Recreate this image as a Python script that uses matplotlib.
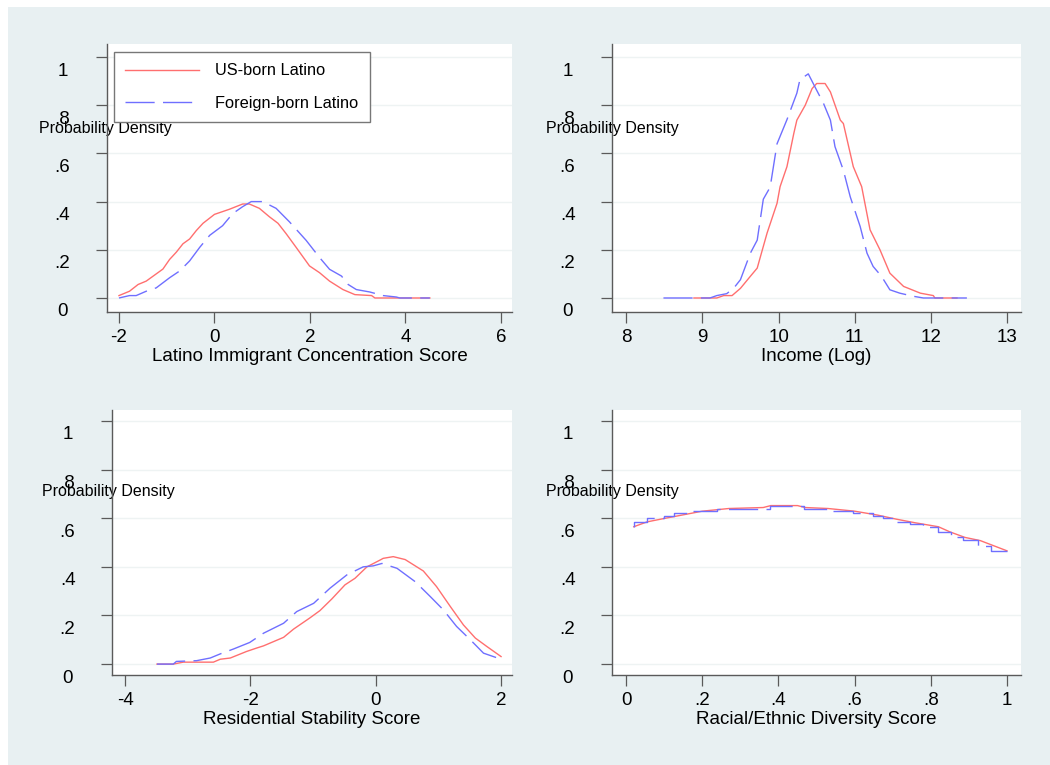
import matplotlib
matplotlib.use("Agg")
import matplotlib.pyplot as plt
from matplotlib.patches import Rectangle
from matplotlib.transforms import ScaledTranslation

plt.rcParams['font.family'] = ['Liberation Sans', 'DejaVu Sans']

# --- data (kernel density curves) ---
# panel 1: Latino immigrant concentration score
conc_us_x = [-2.0, -1.78, -1.6, -1.43, -1.29, -1.08, -0.94, -0.8, -0.66, -0.52, -0.38, -0.24,
             0.0, 0.31, 0.59, 0.73, 0.94, 1.15, 1.33, 1.5, 1.71, 1.99, 2.2, 2.41, 2.69, 2.94,
             3.29, 3.36, 4.51]
conc_us_y = [0.01, 0.028, 0.056, 0.07, 0.09, 0.12, 0.16, 0.19, 0.225, 0.245, 0.28, 0.31,
             0.347, 0.368, 0.39, 0.39, 0.372, 0.337, 0.31, 0.267, 0.21, 0.133, 0.105, 0.07,
             0.035, 0.014, 0.01, 0.0, 0.0]
conc_fb_x = [-2.0, -1.78, -1.64, -1.43, -1.22, -0.94, -0.73, -0.52, -0.31, -0.1, 0.17, 0.38,
             0.59, 0.77, 1.01, 1.29, 1.57, 1.92, 2.2, 2.41, 2.66, 2.8, 2.97, 3.25, 3.53, 3.81,
             3.88, 4.51]
conc_fb_y = [0.0, 0.01, 0.01, 0.028, 0.042, 0.084, 0.112, 0.154, 0.21, 0.26, 0.30, 0.35,
             0.379, 0.40, 0.40, 0.372, 0.316, 0.239, 0.168, 0.119, 0.091, 0.056, 0.035, 0.025,
             0.01, 0.004, 0.0, 0.0]

# panel 2: income (log)
inc_us_x = [8.89, 9.19, 9.28, 9.39, 9.50, 9.63, 9.72, 9.80, 9.85, 9.98, 10.02, 10.11, 10.20,
            10.24, 10.35, 10.44, 10.50, 10.61, 10.68, 10.81, 10.85, 10.98, 11.09, 11.20, 11.33,
            11.46, 11.64, 11.86, 12.03, 12.05, 12.34]
inc_us_y = [0.0, 0.0, 0.01, 0.01, 0.04, 0.09, 0.124, 0.214, 0.27, 0.393, 0.462, 0.545, 0.683,
            0.738, 0.80, 0.869, 0.89, 0.89, 0.855, 0.738, 0.724, 0.545, 0.462, 0.283, 0.20,
            0.103, 0.048, 0.02, 0.01, 0.0, 0.0]
inc_fb_x = [8.49, 9.10, 9.19, 9.32, 9.41, 9.50, 9.63, 9.72, 9.80, 9.89, 9.98, 10.11, 10.24,
            10.28, 10.39, 10.50, 10.59, 10.68, 10.74, 10.85, 10.94, 11.07, 11.16, 11.24, 11.35,
            11.46, 11.59, 11.77, 11.90, 12.47]
inc_fb_y = [0.0, 0.0, 0.01, 0.018, 0.04, 0.076, 0.186, 0.24, 0.41, 0.46, 0.64, 0.74, 0.85,
            0.906, 0.93, 0.862, 0.807, 0.738, 0.628, 0.53, 0.42, 0.297, 0.186, 0.131, 0.09,
            0.034, 0.02, 0.007, 0.0, 0.0]

# panel 3: residential stability score
stab_us_x = [-3.49, -3.23, -3.07, -2.59, -2.48, -2.32, -2.06, -1.90, -1.79, -1.47, -1.31,
             -1.05, -0.89, -0.70, -0.49, -0.33, -0.14, 0.07, 0.12, 0.28, 0.47, 0.76, 0.97,
             1.19, 1.40, 1.59, 1.77, 2.0]
stab_us_y = [0.0, 0.0, 0.008, 0.008, 0.02, 0.025, 0.052, 0.066, 0.075, 0.11, 0.144, 0.19,
             0.22, 0.268, 0.326, 0.353, 0.40, 0.428, 0.435, 0.442, 0.43, 0.383, 0.319, 0.237,
             0.161, 0.107, 0.073, 0.031]
stab_fb_x = [-3.49, -3.23, -3.18, -2.86, -2.64, -2.48, -2.27, -2.01, -1.79, -1.47, -1.26,
             -0.99, -0.73, -0.46, -0.2, -0.04, 0.10, 0.34, 0.63, 0.87, 1.08, 1.29, 1.51, 1.72,
             2.0]
stab_fb_y = [0.0, 0.0, 0.011, 0.014, 0.025, 0.042, 0.062, 0.089, 0.127, 0.168, 0.216, 0.25,
             0.312, 0.367, 0.40, 0.404, 0.414, 0.394, 0.339, 0.278, 0.223, 0.155, 0.10, 0.045,
             0.02]

# panel 4: racial/ethnic diversity score
div_us_x = [0.02, 0.055, 0.10, 0.17, 0.20, 0.27, 0.36, 0.38, 0.45, 0.47, 0.53, 0.60, 0.66,
            0.71, 0.76, 0.82, 0.85, 0.89, 0.93, 1.0]
div_us_y = [0.565, 0.585, 0.599, 0.62, 0.629, 0.64, 0.644, 0.652, 0.652, 0.644, 0.64, 0.629,
            0.613, 0.596, 0.581, 0.565, 0.544, 0.521, 0.508, 0.466]
div_fb_x = [0.02, 0.02, 0.055, 0.099, 0.125, 0.169, 0.238, 0.378, 0.466, 0.527, 0.596, 0.649,
            0.675, 0.71, 0.745, 0.78, 0.819, 0.854, 0.885, 0.924, 0.959, 1.0]
div_fb_y = [0.565, 0.585, 0.599, 0.609, 0.62, 0.631, 0.64, 0.652, 0.64, 0.631, 0.62, 0.609,
            0.599, 0.585, 0.576, 0.565, 0.542, 0.521, 0.51, 0.487, 0.466, 0.466]

yticks = [0, 0.2, 0.4, 0.6, 0.8, 1.0]
ytick_labels = ['0', '.2', '.4', '.6', '.8', '1']
series_names = ['US-born Latino', 'Foreign-born Latino']

red = '#ff6f6f'
blue = '#6f6fff'
bg = '#e8f0f2'
axcol = '#5a5a5a'

fig = plt.figure(figsize=(10.5, 7.65), dpi=100)
fig.patch.set_facecolor('white')
fig.patches.append(Rectangle((8 / 1050, 0), 1, 1 - 7 / 765, transform=fig.transFigure,
                             facecolor=bg, edgecolor='none', zorder=-10))

panels = [
    # rect, xlim, ylim, xticks, xticklabels, xlabel, ytitle xy, data
    ([0.1019, 0.5922, 0.3857, 0.3503], (-2.251, 6.23), (-0.058, 1.054),
     [-2, 0, 2, 4, 6], ['-2', '0', '2', '4', '6'], 'Latino Immigrant Concentration Score',
     (-0.168, 0.683), (conc_us_x, conc_us_y, conc_fb_x, conc_fb_y), 'default'),
    ([0.5829, 0.5922, 0.3895, 0.3503], (7.816, 13.18), (-0.058, 1.054),
     [8, 9, 10, 11, 12, 13], ['8', '9', '10', '11', '12', '13'], 'Income (Log)',
     (-0.161, 0.683), (inc_us_x, inc_us_y, inc_fb_x, inc_fb_y), 'default'),
    ([0.1067, 0.1176, 0.381, 0.3464], (-4.207, 2.176), (-0.045, 1.045),
     [-4, -2, 0, 2], ['-4', '-2', '0', '2'], 'Residential Stability Score',
     (-0.175, 0.691), (stab_us_x, stab_us_y, stab_fb_x, stab_fb_y), 'default'),
    ([0.5829, 0.1176, 0.3895, 0.3464], (-0.037, 1.037), (-0.045, 1.045),
     [0, 0.2, 0.4, 0.6, 0.8, 1.0], ['0', '.2', '.4', '.6', '.8', '1'],
     'Racial/Ethnic Diversity Score',
     (-0.161, 0.691), (div_us_x, div_us_y, div_fb_x, div_fb_y), 'steps-post'),
]

for i, (rect, xlim, ylim, xt, xtl, xlab, ylab_xy, data, fb_style) in enumerate(panels):
    ax = fig.add_axes(rect)
    ax.set_facecolor('white')
    ux, uy, fx, fy = data
    ax.plot(ux, uy, color=red, lw=1.0, label=series_names[0])
    ax.plot(fx, fy, color=blue, lw=1.0, dashes=(21, 6), drawstyle=fb_style,
            label=series_names[1])
    ax.set_xlim(*xlim)
    ax.set_ylim(*ylim)
    ax.set_yticks(yticks)
    ax.set_yticklabels(ytick_labels)
    ax.set_xticks(xt)
    ax.set_xticklabels(xtl)
    ax.grid(axis='y', color='#eef3f3', lw=1.0)
    ax.set_axisbelow(True)
    for s in ['top', 'right']:
        ax.spines[s].set_visible(False)
    for s in ['left', 'bottom']:
        ax.spines[s].set_color(axcol)
        ax.spines[s].set_linewidth(1.0)
    ax.tick_params(axis='both', colors=axcol, length=8, width=0.9, labelsize=13.5,
                   labelcolor='black')
    ax.tick_params(axis='x', pad=4)
    ax.tick_params(axis='y', pad=24)
    off = ScaledTranslation(0, -12 / 100, fig.dpi_scale_trans)
    for lab in ax.get_yticklabels():
        lab.set_horizontalalignment('center')
        lab.set_transform(lab.get_transform() + off)
    ax.set_xlabel(xlab, fontsize=13.5, labelpad=2)
    ax.set_ylabel('Probability Density', fontsize=11.5, rotation=0, ha='left', va='center')
    ax.yaxis.set_label_coords(*ylab_xy)

    if i == 0:
        leg = ax.legend(loc='upper left', bbox_to_anchor=(0.017, 0.970), borderaxespad=0,
                        fontsize=11.8, handlelength=4.5, handletextpad=1.0, labelspacing=1.05,
                        borderpad=0.7, fancybox=False, framealpha=1, edgecolor='#777777')
        leg.get_frame().set_linewidth(1.0)

fig.savefig('out.png', dpi=100, facecolor=fig.get_facecolor())
